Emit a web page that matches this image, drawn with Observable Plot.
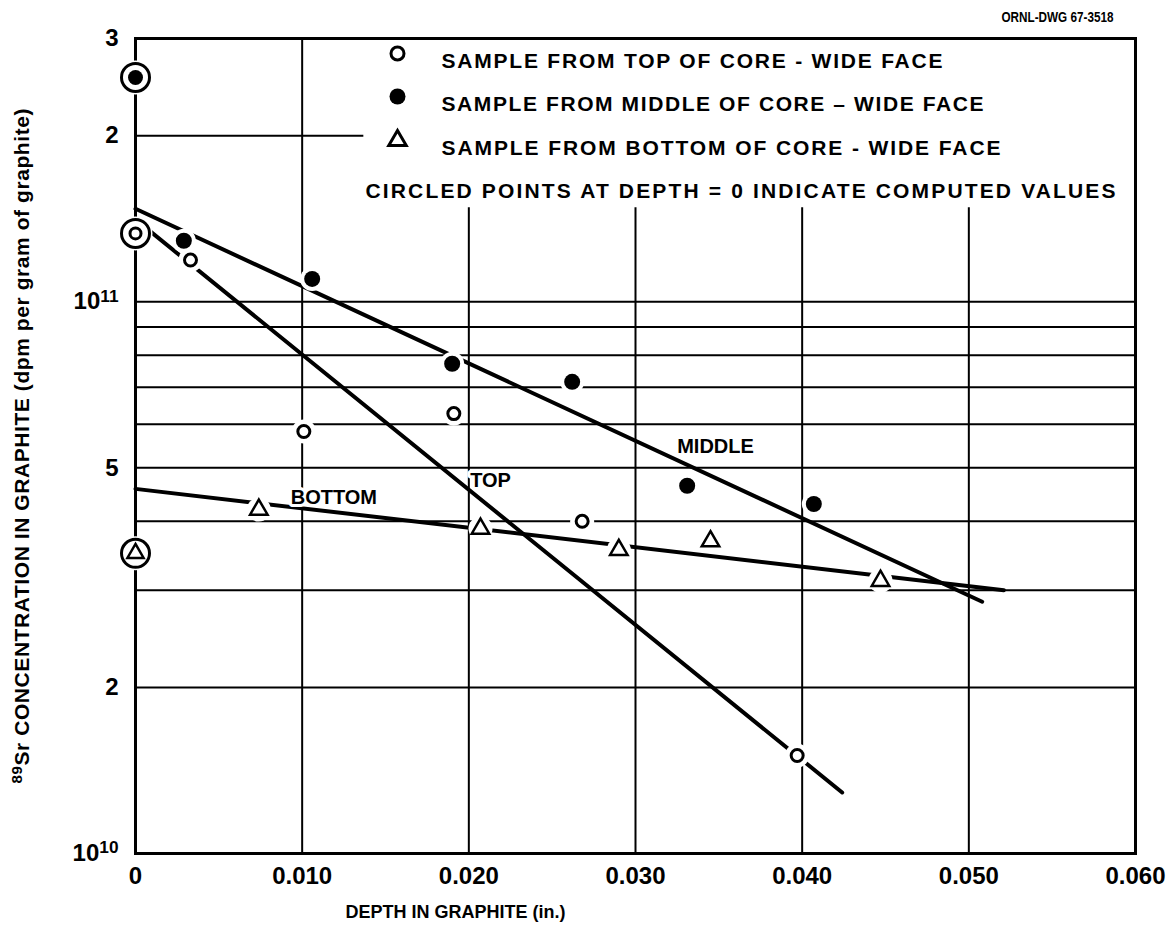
<!DOCTYPE html>
<html><head><meta charset="utf-8">
<script src="https://cdn.jsdelivr.net/npm/d3@7"></script>
<script src="https://cdn.jsdelivr.net/npm/@observablehq/plot@0.6"></script>
<style>
html,body{margin:0;padding:0;background:#fff;}
#chart svg{display:block;}
</style></head><body><div id="chart"></div>
<script>
// ---------------- data ----------------
const topDepth = [0.0033, 0.0101, 0.0191, 0.0268, 0.0397];
const topConc  = [1.19e11, 5.82e10, 6.27e10, 4.0e10, 1.505e10];
const midDepth = [0.0029, 0.0106, 0.0190, 0.0262, 0.0331, 0.0407];
const midConc  = [1.29e11, 1.10e11, 7.72e10, 7.16e10, 4.64e10, 4.3e10];
const botDepth = [0.0074, 0.0207, 0.0290, 0.0345, 0.0447];
const botConc  = [4.2e10, 3.88e10, 3.55e10, 3.68e10, 3.12e10];

const computedSeries = ["top", "middle", "bottom"];
const computedDepth  = [0, 0, 0];
const computedConc   = [1.33e11, 2.55e11, 3.5e10];

const fitSeries     = ["top", "middle", "bottom"];
const fitStartDepth = [0, 0, 0];
const fitStartConc  = [1.41e11, 1.474e11, 4.58e10];
const fitEndDepth   = [0.0424, 0.0508, 0.0521];
const fitEndConc    = [1.29e10, 2.86e10, 3.0e10];

const curveLabels     = ["TOP", "MIDDLE", "BOTTOM"];
const curveLabelDepth = [0.0213, 0.0348, 0.0119];
const curveLabelConc  = [4.74e10, 5.46e10, 4.41e10];

const xTicks      = [0, 0.01, 0.02, 0.03, 0.04, 0.05, 0.06];
const xTickLabels = ["0", "0.010", "0.020", "0.030", "0.040", "0.050", "0.060"];
const yTicks      = [1e10, 2e10, 5e10, 1e11, 2e11, 3e11];
const yTickLabels = ["10^10", "2", "5", "10^11", "2", "3"];

const gridConc        = [2e10, 3e10, 4e10, 5e10, 6e10, 7e10, 8e10, 9e10, 1e11];
const partialGridConc = [2e11];
const partialGridEnd  = [0.0137];
const gridDepthFull    = [0.01];
const gridDepthPartial = [0.02, 0.03, 0.04, 0.05];
const gridDepthPartialTop = [1.48e11];

const legendLabels = [
  "SAMPLE FROM TOP OF CORE - WIDE FACE",
  "SAMPLE FROM MIDDLE OF CORE \u2013 WIDE FACE",
  "SAMPLE FROM BOTTOM OF CORE - WIDE FACE"
];
const legendNote = "CIRCLED POINTS AT DEPTH = 0 INDICATE COMPUTED VALUES";
const xLabel = "DEPTH IN GRAPHITE (in.)";
const yLabel = "^89Sr CONCENTRATION IN GRAPHITE (dpm per gram of graphite)";
const drawingId = "ORNL-DWG 67-3518";

// ---------------- tables ----------------
const topPts = topDepth.map((d, i) => ({depth: d, conc: topConc[i]}));
const midPts = midDepth.map((d, i) => ({depth: d, conc: midConc[i]}));
const botPts = botDepth.map((d, i) => ({depth: d, conc: botConc[i]}));
const compPts = computedSeries.map((s, i) => ({series: s, depth: computedDepth[i], conc: computedConc[i]}));
const fitTable = fitSeries.flatMap((s, i) => [
  {series: s, depth: fitStartDepth[i], conc: fitStartConc[i]},
  {series: s, depth: fitEndDepth[i], conc: fitEndConc[i]}
]);
const labelTable = curveLabels.map((t, i) => ({text: t, depth: curveLabelDepth[i], conc: curveLabelConc[i]}));
const partialH = partialGridConc.map((c, i) => ({conc: c, end: partialGridEnd[i]}));

// ---------------- layout ----------------
const FONT = "'Liberation Sans', Arial, 'DejaVu Sans', sans-serif";
const TICK_FONT_SIZE = "24px";
const legendRows = [15, 58, 102];      // dy from top of frame
const legendMarkDx = 262, legendTextDx = 306, noteDx = 230, noteDy = 145;
const textLengths = {};
textLengths[legendLabels[0]] = 501;
textLengths[legendLabels[1]] = 542;
textLengths[legendLabels[2]] = 559;
textLengths[legendNote] = 750;
textLengths[xLabel] = 220;
textLengths[yLabel] = 675;
const squeezeLengths = {};
squeezeLengths[drawingId] = 112;

const legendSymbols = [
  {symbol: "circle", fill: "white", r: 6.5},
  {symbol: "circle", fill: "black", r: 8},
  {symbol: "triangle", fill: "white", r: 6.5}
];

const marks = [
  Plot.ruleY(gridConc, {y: d => d, stroke: "black", strokeWidth: 2}),
  Plot.ruleY(partialH, {y: "conc", x1: () => 0, x2: "end", stroke: "black", strokeWidth: 2}),
  Plot.ruleX(gridDepthFull, {x: d => d, stroke: "black", strokeWidth: 2}),
  Plot.ruleX(gridDepthPartial, {x: d => d, y1: () => 1e10, y2: () => gridDepthPartialTop[0], stroke: "black", strokeWidth: 2}),
  Plot.frame({stroke: "black", strokeWidth: 3}),
  Plot.line(fitTable, {x: "depth", y: "conc", z: "series", stroke: "black", strokeWidth: 4}),
  // white gaps around the markers
  Plot.dot([...topPts, ...midPts, ...botPts], {x: "depth", y: "conc", r: 12, fill: "white"}),
  Plot.dot(compPts, {x: "depth", y: "conc", r: 17, fill: "white"}),
  // rings for computed values
  Plot.dot(compPts, {x: "depth", y: "conc", r: 14, fill: "white", stroke: "black", strokeWidth: 3}),
  Plot.dot(compPts.filter(d => d.series === "top"), {x: "depth", y: "conc", r: 5.5, fill: "white", stroke: "black", strokeWidth: 3}),
  Plot.dot(compPts.filter(d => d.series === "middle"), {x: "depth", y: "conc", r: 7.5, fill: "black"}),
  Plot.dot(compPts.filter(d => d.series === "bottom"), {x: "depth", y: "conc", symbol: "triangle", r: 6, fill: "white", stroke: "black", strokeWidth: 2.5}),
  // samples
  Plot.dot(topPts, {x: "depth", y: "conc", r: 6, fill: "white", stroke: "black", strokeWidth: 3}),
  Plot.dot(midPts, {x: "depth", y: "conc", r: 8, fill: "black"}),
  Plot.dot(botPts, {x: "depth", y: "conc", symbol: "triangle", r: 6.5, fill: "white", stroke: "black", strokeWidth: 2.5}),
  // curve labels
  Plot.text(labelTable, {x: "depth", y: "conc", text: "text", fontSize: 20, fontWeight: "bold", fill: "black", stroke: "white", strokeWidth: 6, paintOrder: "stroke"}),
  // axis labels & id
  Plot.text([xLabel], {frameAnchor: "bottom-left", dx: 320, dy: 64, text: d => d, fontSize: 18, fontWeight: "bold", textAnchor: "middle"}),
  Plot.text([yLabel], {frameAnchor: "left", dx: -113, text: d => d, fontSize: 21, fontWeight: "bold", rotate: -90, textAnchor: "middle"}),
  Plot.text([drawingId], {frameAnchor: "top-right", dx: -22, dy: -27, text: d => d, fontSize: 15, fontWeight: "bold", textAnchor: "end"}),
  // legend
  ...legendSymbols.map((s, i) => Plot.dot([s], {frameAnchor: "top-left", dx: legendMarkDx, dy: legendRows[i], symbol: s.symbol, r: s.r, fill: s.fill, stroke: "black", strokeWidth: s.fill === "black" ? 0 : 3})),
  ...legendLabels.map((t, i) => Plot.text([t], {frameAnchor: "top-left", dx: legendTextDx, dy: legendRows[i], text: d => d, fontSize: 21, fontWeight: "bold", textAnchor: "start"})),
  Plot.text([legendNote], {frameAnchor: "top-left", dx: noteDx, dy: noteDy, text: d => d, fontSize: 21, fontWeight: "bold", textAnchor: "start"})
];

const chart = Plot.plot({
  width: 1175,
  height: 933,
  marginLeft: 135,
  marginRight: 40,
  marginTop: 38,
  marginBottom: 80,
  style: {fontFamily: FONT, fontSize: "23px", fontWeight: "bold", background: "white", color: "black"},
  x: {domain: [0, 0.06], ticks: xTicks, tickFormat: d => xTickLabels[xTicks.findIndex(t => Math.abs(t - d) < 1e-9)], tickSize: 0, tickPadding: 13, label: null},
  y: {type: "log", domain: [1e10, 3e11], ticks: yTicks, tickFormat: d => yTickLabels[yTicks.findIndex(t => Math.abs(t - d) / t < 1e-6)], tickSize: 0, tickPadding: 17, label: null},
  marks
});

const SVGNS = "http://www.w3.org/2000/svg";
const tickTexts = new Set([...xTickLabels, ...yTickLabels]);
chart.querySelectorAll("text").forEach(el => {
  const txt = el.textContent;
  if (tickTexts.has(txt)) { el.style.fontSize = TICK_FONT_SIZE; el.style.fontWeight = "bold"; }
  const w = textLengths[txt];
  if (w) { el.setAttribute("textLength", w); el.setAttribute("lengthAdjust", "spacing"); }
  const s = squeezeLengths[txt];
  if (s) { el.setAttribute("textLength", s); el.setAttribute("lengthAdjust", "spacingAndGlyphs"); }
  const m = txt.match(/^(.*?)\^(\d+)(.*)$/);
  if (m) {
    while (el.firstChild) el.removeChild(el.firstChild);
    if (m[1]) el.appendChild(document.createTextNode(m[1]));
    const sup = document.createElementNS(SVGNS, "tspan");
    sup.setAttribute("dy", "-0.45em");
    sup.setAttribute("font-size", "72%");
    sup.textContent = m[2];
    el.appendChild(sup);
    if (m[3]) {
      const rest = document.createElementNS(SVGNS, "tspan");
      rest.setAttribute("dy", "0.32em");
      rest.textContent = m[3];
      el.appendChild(rest);
    }
  }
});
document.getElementById("chart").appendChild(chart);
</script></body></html>
